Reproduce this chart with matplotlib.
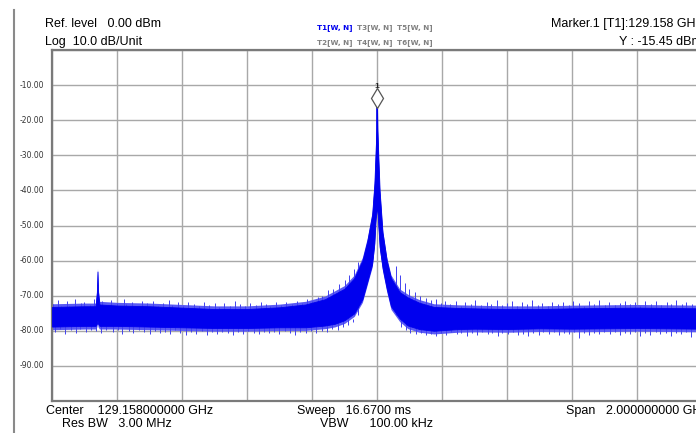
import numpy as np
import matplotlib
matplotlib.use("Agg")
import matplotlib.pyplot as plt

plt.rcParams['font.family'] = ['Liberation Sans', 'DejaVu Sans']

# ------------------------
# 데이터 (center 기준 offset, MHz / 레벨 dBm)
# ------------------------
center_ghz = 129.158
span_mhz = 2000.0

# trace 의 주 대역 (위/아래 경계)
band_x = [-1000, -900, -866, -862, -860, -858, -854, -800, -700, -600, -500, -400, -300,
          -220, -160, -130, -100, -70, -45, -30, -15, -8, -4, -1.5, 0,
          1.5, 4, 8, 17, 30, 43, 70, 95, 130, 175, 250,
          300, 400, 500, 600, 700, 800, 900, 1000]
band_hi = [-73.2, -73.0, -73.0, -69.0, -63.1, -69.0, -72.5, -72.8, -73.0, -73.4, -73.8, -73.8, -73.3,
           -72.5, -71.0, -69.5, -68.0, -65.0, -60.0, -54.5, -47.0, -38.0, -28.0, -23.0, -15.45,
           -23.0, -30.0, -40.0, -52.0, -60.0, -65.0, -69.0, -70.5, -72.0, -73.2, -73.5,
           -73.6, -73.8, -73.8, -73.6, -73.5, -73.4, -73.5, -73.6]
band_lo = [-78.8, -78.6, -78.6, -78.0, -77.0, -78.0, -78.6, -78.6, -78.8, -79.0, -79.2, -79.2, -79.0,
           -79.0, -78.5, -78.0, -77.0, -75.0, -71.0, -66.0, -61.0, -55.0, -48.0, -46.0, -44.0,
           -46.0, -50.0, -56.0, -62.0, -68.0, -73.0, -76.5, -78.5, -79.5, -80.0, -79.5,
           -79.4, -79.5, -79.3, -79.4, -79.3, -79.2, -79.3, -79.4]

# 노이즈 스파이크 (위쪽)
up_x = [-996, -981, -973, -955, -947, -930, -911, -903, -884, -871, -845, -829, -817, -801,
        -779, -771, -755, -736, -722, -709, -688, -675, -657, -641, -630, -611, -596, -581,
        -563, -549, -532, -518, -497, -486, -470, -452, -437, -421, -405, -391, -373, -358,
        -341, -328, -310, -296, -279, -262, -247, -231, -214, -199, -183, -168, -150, -135,
        -118, -100, -85, -70, -58,
        58, 70, 85, 100, 116, 132, 150, 166, 181, 197, 210, 226, 243, 257, 272, 290, 303,
        320, 337, 351, 369, 384, 399, 416, 431, 447, 462, 478, 495, 509, 527, 540, 558,
        573, 590, 604, 621, 637, 652, 668, 683, 701, 715, 731, 748, 762, 779, 795, 810,
        826, 843, 858, 874, 891, 905, 921, 938, 952, 968, 985, 998]
up_y = [-72.4, -71.2, -72.8, -71.6, -72.9, -71.0, -72.2, -71.7, -72.6, -70.9, -71.5, -72.7, -71.3, -72.0,
        -70.9, -72.4, -71.8, -72.9, -71.4, -72.2, -71.6, -72.8, -72.0, -71.3, -72.6, -71.9, -72.9, -71.7,
        -72.4, -73.0, -71.9, -72.7, -72.2, -73.1, -72.0, -72.8, -71.6, -72.5, -73.0, -72.1, -72.7, -71.8,
        -72.4, -72.9, -71.9, -72.6, -71.7, -72.3, -71.5, -72.1, -70.9, -71.6, -70.4, -70.2, -68.5, -68.0,
        -66.8, -65.5, -64.0, -62.5, -60.5,
        -61.5, -64.0, -66.5, -68.0, -69.0, -70.0, -70.6, -71.2, -71.0, -72.0, -71.4, -72.5, -71.6, -72.8, -71.9, -72.4, -71.3,
        -72.7, -71.8, -72.3, -71.2, -72.6, -72.0, -71.5, -72.8, -71.9, -72.4, -71.1, -72.6, -72.1, -72.9, -71.7, -72.3,
        -71.8, -72.7, -71.4, -72.2, -72.8, -71.6, -72.4, -71.2, -72.6, -71.9, -72.7, -72.1, -71.5, -72.5, -71.8, -72.9,
        -71.6, -72.3, -71.4, -72.6, -71.9, -72.4, -71.2, -72.5, -71.7, -72.3, -71.5, -72.4]

# 노이즈 스파이크 (아래쪽)
dn_x = [-990, -976, -959, -943, -925, -915, -896, -879, -866, -849, -835, -812, -797, -784,
        -764, -750, -733, -716, -700, -684, -668, -652, -637, -620, -605, -588, -572, -556,
        -540, -523, -507, -492, -476, -459, -444, -428, -412, -396, -380, -364, -348, -331,
        -316, -300, -284, -268, -252, -236, -220, -203, -187, -170, -154, -138, -120, -104,
        -88, -74,
        74, 88, 103, 119, 134, 150, 165, 181, 197, 213, 228, 245, 260, 276, 292, 307, 323,
        340, 355, 371, 386, 403, 418, 434, 450, 465, 481, 497, 512, 528, 544, 559, 575,
        591, 606, 622, 638, 653, 669, 684, 700, 716, 731, 747, 763, 778, 794, 810, 825,
        841, 857, 872, 888, 904, 919, 935, 951, 966, 982, 997]
dn_y = [-80.3, -79.6, -80.8, -79.9, -80.5, -79.5, -80.2, -79.7, -80.0, -80.6, -79.8, -80.4, -79.7, -80.9,
        -80.1, -80.6, -79.8, -80.3, -81.0, -80.0, -80.7, -80.2, -80.9, -79.9, -80.5, -81.1, -80.3, -80.8,
        -80.1, -81.2, -80.4, -80.9, -80.2, -80.7, -81.3, -80.4, -80.8, -80.1, -80.6, -81.0, -80.2, -80.7,
        -80.3, -80.9, -80.1, -80.6, -81.1, -80.2, -80.7, -80.1, -80.5, -80.0, -80.4, -79.6, -79.9, -79.0,
        -78.3, -77.5,
        -79.0, -79.8, -80.5, -81.0, -80.6, -81.3, -80.8, -81.4, -80.6, -81.2, -80.4, -81.0, -80.5, -81.6, -80.7, -81.1, -80.3,
        -80.9, -80.5, -81.4, -80.6, -81.0, -80.4, -81.3, -80.8, -81.6, -80.5, -81.1, -80.4, -80.9, -80.3, -81.2, -80.6,
        -81.0, -80.4, -82.0, -80.7, -81.2, -80.5, -81.0, -80.3, -80.9, -80.4, -81.3, -80.6, -81.0, -80.4, -81.5, -80.7,
        -81.1, -80.4, -81.0, -80.5, -81.4, -80.6, -81.0, -80.4, -81.7, -80.6, -81.0]

marker_x = 0.0
marker_y = -15.45

y_ticks = [-10, -20, -30, -40, -50, -60, -70, -80, -90]
y_tick_labels = [f"{v:.2f}" for v in y_ticks]

# ------------------------
# figure / axes
# ------------------------
W, H = 696, 433
fig = plt.figure(figsize=(W / 100, H / 100), dpi=100)
ax = fig.add_axes([52 / W, (H - 401) / H, 650 / W, 351 / H])

grid_c = '#a8a8a8'
blue = '#0000ee'
fringe = 0.9   # 대역 가장자리의 옅은 부분 폭 (dB)

to_ghz = lambda v: center_ghz + np.asarray(v) / 1000.0

bx = to_ghz(band_x)
ax.fill_between(bx, np.array(band_lo) - fringe, np.array(band_hi) + fringe,
                color='#5a5af4', lw=0, zorder=2.3)
# 스파이크는 대역 뒤에 그려서 바깥 부분만 보이게
ax.vlines(to_ghz(up_x), -75.5, up_y, color='#4040f0', lw=0.7, zorder=2.6)
ax.vlines(to_ghz(dn_x), -76.5, dn_y, color='#4040f0', lw=0.7, zorder=2.6)
ax.fill_between(bx, band_lo, band_hi, color=blue, lw=0.6, edgecolor=blue, zorder=3)
ax.plot(to_ghz([marker_x, marker_x]), [-45, marker_y], color=blue, lw=1.2, zorder=4)

# marker
ax.plot(to_ghz(marker_x), -13.7, marker='d', ms=10, mfc='white', mec='#555555',
        mew=0.9, zorder=6, clip_on=False)
ax.text(to_ghz(marker_x), -10.3, "1", ha='center', va='center', fontsize=6,
        fontweight='bold', color='#222222', zorder=6)

ax.set_xlim(center_ghz - span_mhz / 2000, center_ghz + span_mhz / 2000)
ax.set_ylim(-100, 0)
ax.set_xticks(np.linspace(center_ghz - 1, center_ghz + 1, 11))
ax.set_yticks(np.arange(-100, 1, 10))
ax.grid(True, color=grid_c, lw=1.0, zorder=1)
ax.tick_params(length=0, labelbottom=False, labelleft=False)
for s in ax.spines.values():
    s.set_color('#7a7a7a')
    s.set_linewidth(1.6)

# y tick 라벨
for v, lab in zip(y_ticks, y_tick_labels):
    ax.text(-0.012, (v + 100) / 100, lab, transform=ax.transAxes, ha='right',
            va='center', fontsize=5.5, color='#333333', family='DejaVu Sans')

# ------------------------
# 상단 / 하단 텍스트
# ------------------------
def ftxt(x, y, s, **kw):
    fig.text(x / W, 1 - y / H, s, va='center', **kw)

ftxt(45, 24, "Ref. level   0.00 dBm", fontsize=9)
ftxt(45, 42, "Log  10.0 dB/Unit", fontsize=9)
# 오른쪽 marker 정보는 원본처럼 화면 밖으로 약간 잘림
ftxt(702, 24, "Marker.1 [T1]:129.158 GHz", fontsize=9, ha='right')
ftxt(702, 42, "Y : -15.45 dBm", fontsize=9, ha='right')

tr_labels = [["T1[W, N]", "T3[W, N]", "T5[W, N]"], ["T2[W, N]", "T4[W, N]", "T6[W, N]"]]
for r, row in enumerate(tr_labels):
    for c, lab in enumerate(row):
        col = blue if lab == "T1[W, N]" else '#808080'
        ftxt(317 + c * 40, 28 + r * 15, lab, fontsize=5.2, fontweight='bold', color=col,
             family='DejaVu Sans')

ftxt(46, 411, "Center    129.158000000 GHz", fontsize=9)
ftxt(62, 424, "Res BW   3.00 MHz", fontsize=9)
ftxt(297, 411, "Sweep   16.6700 ms", fontsize=9)
ftxt(320, 424, "VBW      100.00 kHz", fontsize=9)
ftxt(566, 411, "Span   2.000000000 GHz", fontsize=9)

# 왼쪽 세로선
fig.add_artist(plt.Line2D([13.5 / W, 13.5 / W], [0, 1 - 10 / H], color='#8a8a8a', lw=1.5))

fig.savefig("out.png", dpi=100)
